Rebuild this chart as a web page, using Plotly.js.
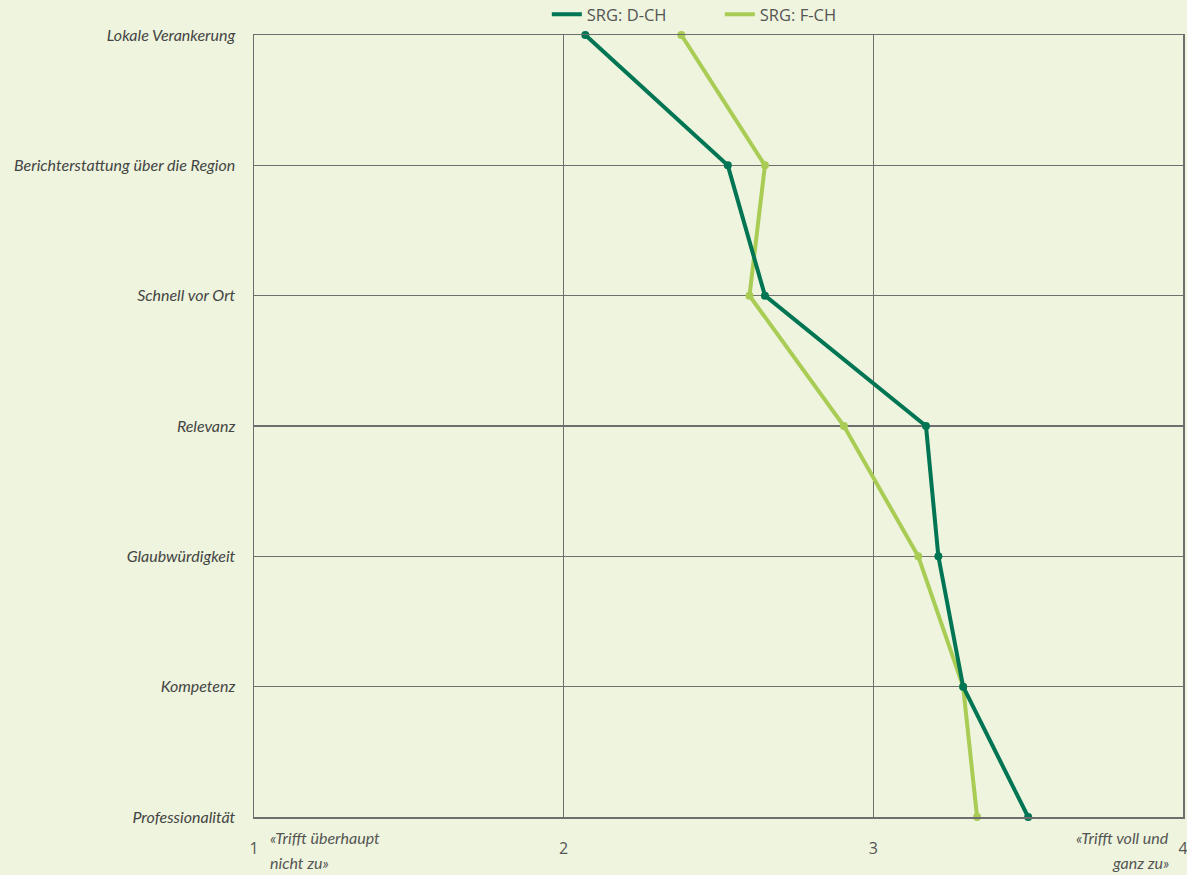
<!DOCTYPE html>
<html>
<head>
<meta charset="utf-8">
<script src="https://cdn.plot.ly/plotly-3.0.1.min.js"></script>
<style>html,body{margin:0;padding:0;background:#EEF4DD;}#chart{width:1187px;height:875px;}</style>
</head>
<body>
<div id="chart"></div>
<script>
const categories = ["Lokale Verankerung", "Berichterstattung über die Region", "Schnell vor Ort", "Relevanz", "Glaubwürdigkeit", "Kompetenz", "Professionalität"];
const dchValues = [2.07, 2.53, 2.65, 3.17, 3.21, 3.29, 3.50];
const fchValues = [2.38, 2.65, 2.60, 2.905, 3.145, 3.29, 3.335];
const seriesNames = ["SRG: D-CH", "SRG: F-CH"];
const xTickVals = [1, 2, 3, 4];
const xTickText = ["1", "2", "3", "4"];
const lowLabel = ["«Trifft überhaupt", "nicht zu»"];
const highLabel = ["«Trifft voll und", "ganz zu»"];

const darkGreen = "#007553";
const lightGreen = "#A9CC55";

function lineTrace(xs, name, color, rank) {
  return {x: xs, y: categories, name: name, type: "scatter", mode: "lines",
          line: {color: color, width: 4}, cliponaxis: false, legendrank: rank};
}
function markerTrace(xs, name, color) {
  return {x: xs, y: categories, name: name, type: "scatter", mode: "markers", showlegend: false,
          marker: {color: color, size: 8}, cliponaxis: false};
}

const traces = [
  lineTrace(fchValues, seriesNames[1], lightGreen, 2),
  markerTrace(fchValues, seriesNames[1], lightGreen),
  lineTrace(dchValues, seriesNames[0], darkGreen, 1),
  markerTrace(dchValues, seriesNames[0], darkGreen)
];

const gridCol = "#6e6e6e";
const noteFont = {family: "Lato, sans-serif", size: 16, color: "#555555", style: "italic"};
function note(text, xv, anchor, xshift, yshift) {
  return {text: text, x: xv, y: 0, xref: "x", yref: "paper", xanchor: anchor, yanchor: "middle",
          align: anchor, xshift: xshift, yshift: yshift, showarrow: false, font: noteFont};
}

const layout = {
  width: 1187, height: 875,
  paper_bgcolor: "#EEF4DD", plot_bgcolor: "#EEF4DD",
  margin: {l: 254, r: 4, t: 35, b: 58, autoexpand: false},
  showlegend: true,
  legend: {orientation: "h", x: 0.3152, xanchor: "left", y: 1.0486, yanchor: "top",
           font: {family: "Open Sans, sans-serif", size: 16.5, color: "#555555"},
           entrywidth: 128, entrywidthmode: "pixels",
           bgcolor: "rgba(0,0,0,0)", traceorder: "normal"},
  xaxis: {range: [1, 4], tickvals: xTickVals, ticktext: xTickText, showgrid: true, gridcolor: gridCol, gridwidth: 1.5,
          showline: true, linecolor: gridCol, linewidth: 1.5, mirror: true, zeroline: false,
          ticks: "", ticklabelstandoff: 16, ticklabeloverflow: "allow", automargin: false,
          tickfont: {family: "Open Sans, sans-serif", size: 16, color: "#555555"}},
  yaxis: {type: "category", categoryorder: "array", categoryarray: categories, range: [6, 0],
          showgrid: true, gridcolor: gridCol, gridwidth: 1.5, automargin: false,
          showline: true, linecolor: gridCol, linewidth: 1.5, mirror: true, zeroline: false,
          ticks: "", ticklabelstandoff: 14,
          tickfont: {family: "Lato, sans-serif", size: 16, color: "#444444", style: "italic"}},
  annotations: [
    note(lowLabel[0], 1, "left", 14, -20),
    note(lowLabel[1], 1, "left", 14, -45),
    note(highLabel[0], 4, "right", -12, -20),
    note(highLabel[1], 4, "right", -12, -45)
  ]
};

Plotly.newPlot("chart", traces, layout, {displayModeBar: false, staticPlot: true});
</script>
</body>
</html>
